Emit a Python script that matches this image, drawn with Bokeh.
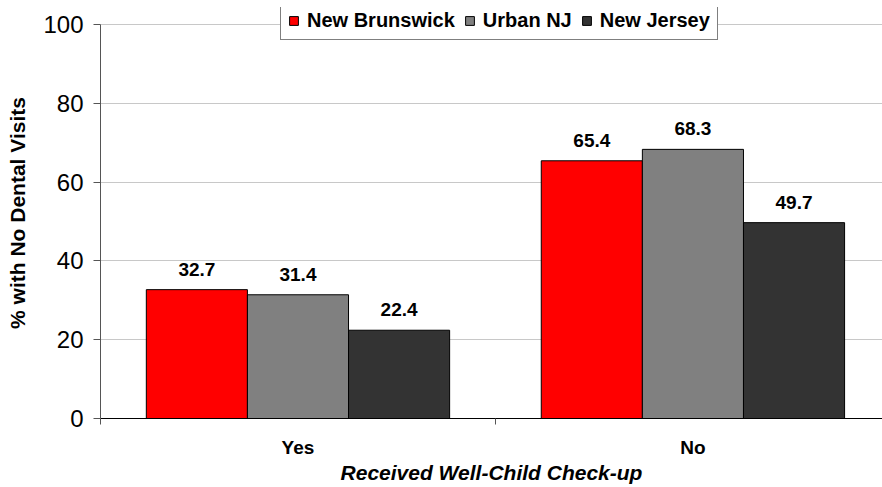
from bokeh.plotting import figure
from bokeh.models import (Range1d, FixedTicker, LinearAxis, ColumnDataSource,
                          LabelSet, Legend, LegendItem)
from bokeh.core.properties import value
from bokeh.embed import file_html
from bokeh.resources import INLINE

categories = ["Yes", "No"]
series_names = ["New Brunswick", "Urban NJ", "New Jersey"]
new_brunswick = [32.7, 65.4]
urban_nj = [31.4, 68.3]
new_jersey = [22.4, 49.7]
colors = ["#ff0000", "#808080", "#333333"]
y_ticks = [0, 20, 40, 60, 80, 100]

FONT = "Liberation Sans"
bar_w = 0.256

p = figure(width=882, height=487, output_backend="svg", toolbar_location=None,
           x_range=Range1d(0, 1.98), y_range=Range1d(0, 104.3),
           min_border_left=100, min_border_top=7, min_border_right=0,
           min_border_bottom=69, x_axis_location=None)
p.outline_line_color = None
p.background_fill_color = "white"
p.border_fill_color = "white"

# y axis
p.yaxis.ticker = FixedTicker(ticks=y_ticks)
p.yaxis.bounds = (0, 100)
p.yaxis.major_label_text_font = FONT
p.yaxis.major_label_text_font_size = "24px"
p.yaxis.major_label_text_color = "black"
p.yaxis.major_tick_out = 7
p.yaxis.major_tick_in = 0
p.yaxis.minor_tick_line_color = None
p.yaxis.axis_line_color = "#555555"
p.yaxis.major_tick_line_color = "#555555"
p.yaxis.major_label_standoff = 10
p.yaxis.axis_label = "% with No Dental Visits"
p.yaxis.axis_label_text_font = FONT
p.yaxis.axis_label_text_font_size = "21px"
p.yaxis.axis_label_text_font_style = "bold"
p.yaxis.axis_label_text_color = "black"
p.yaxis.axis_label_standoff = 11
p.ygrid.grid_line_color = "#c8c8c8"
p.xgrid.grid_line_color = None

# bottom axis with ticks between categories
ax1 = LinearAxis(ticker=FixedTicker(ticks=list(range(len(categories) + 1))),
                 major_label_overrides={i: "" for i in range(len(categories) + 1)})
ax1.major_label_text_font_size = "1px"
ax1.major_tick_out = 6
ax1.major_tick_in = 0
ax1.minor_tick_line_color = None
ax1.axis_line_color = "black"
ax1.major_tick_line_color = "#555555"
ax1.major_label_standoff = 0
p.add_layout(ax1, "below")

# category labels axis
centers = [i + 0.5 for i in range(len(categories))]
ax2 = LinearAxis(ticker=FixedTicker(ticks=centers),
                 major_label_overrides={c: n for c, n in zip(centers, categories)})
ax2.axis_line_color = None
ax2.major_tick_line_color = None
ax2.minor_tick_line_color = None
ax2.major_label_text_font = FONT
ax2.major_label_text_font_size = "19px"
ax2.major_label_text_font_style = "bold"
ax2.major_label_text_color = "black"
ax2.major_label_standoff = 6
ax2.axis_label = "Received Well-Child Check-up"
ax2.axis_label_text_font = FONT
ax2.axis_label_text_font_size = "21px"
ax2.axis_label_text_font_style = "bold italic"
ax2.axis_label_text_color = "black"
ax2.axis_label_standoff = 0
p.add_layout(ax2, "below")

series = [new_brunswick, urban_nj, new_jersey]
offsets = [-bar_w, 0, bar_w]
items = []
for name, vals, col, off in zip(series_names, series, colors, offsets):
    xs = [i + 0.5 + off for i in range(len(categories))]
    src = ColumnDataSource(dict(x=xs, top=vals, lab=[f"{v:.1f}" for v in vals]))
    r = p.vbar(x="x", top="top", width=bar_w, bottom=0, source=src,
               fill_color=col, line_color="black", line_width=1)
    items.append(LegendItem(label=name, renderers=[r]))
    p.add_layout(LabelSet(x="x", y="top", text="lab", source=src,
                          text_align="center", text_baseline="alphabetic",
                          y_offset=14, text_font=value(FONT),
                          text_font_size=value("19px"),
                          text_font_style=value("bold"),
                          text_color=value("black")))

legend = Legend(items=items, orientation="horizontal", location=(180, 378))
legend.label_text_font = FONT
legend.label_text_font_size = "20px"
legend.label_text_font_style = "bold"
legend.label_text_color = "black"
legend.glyph_width = 11
legend.glyph_height = 11
legend.label_standoff = 8
legend.spacing = 9
legend.padding = 7
legend.margin = 0
legend.border_line_color = "black"
legend.border_line_width = 1
legend.background_fill_alpha = 1
p.add_layout(legend, "center")

open("out.html", "w").write(file_html(p, INLINE))
